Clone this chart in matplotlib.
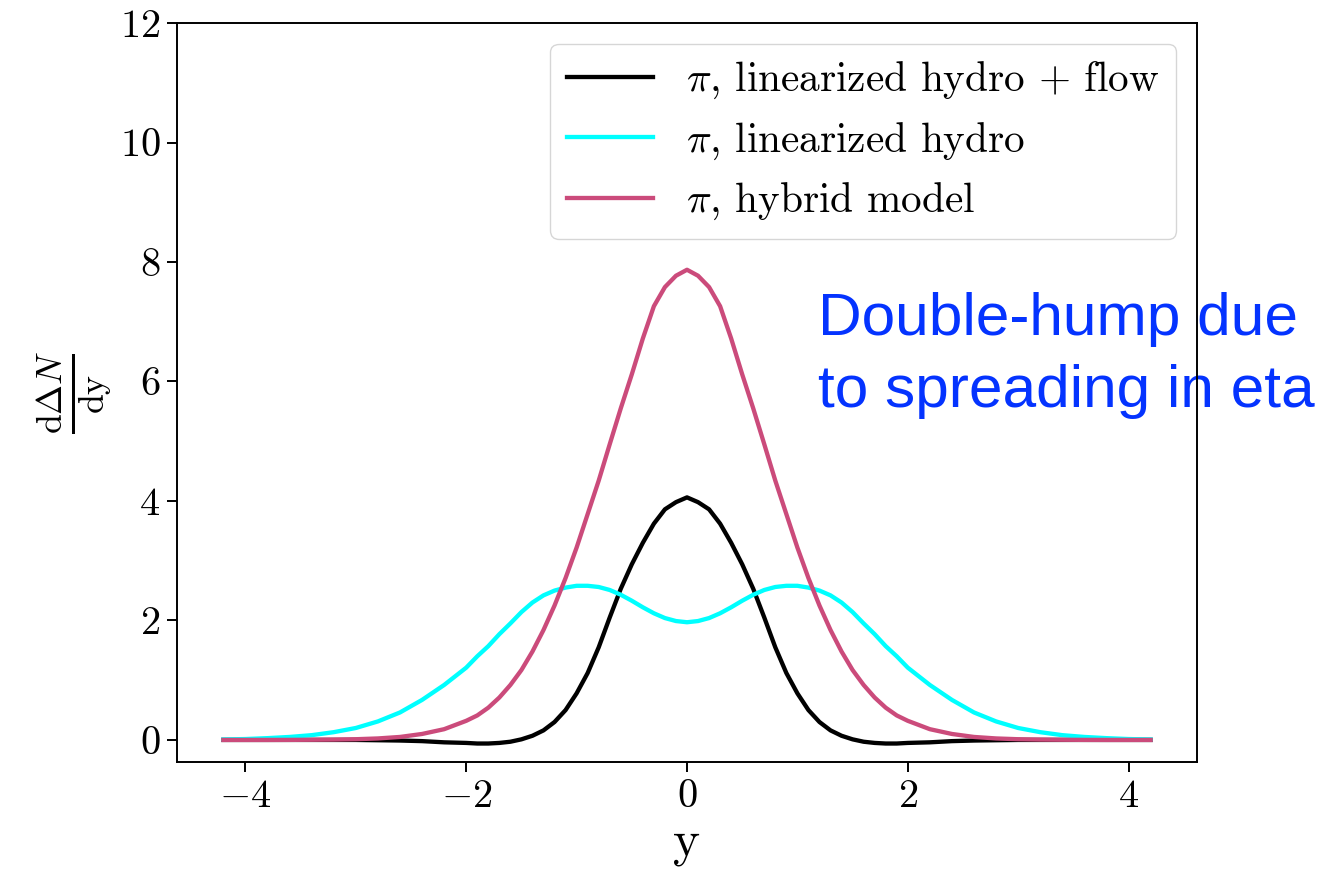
import matplotlib
matplotlib.use('Agg')
import matplotlib.pyplot as plt

# rapidity grid (coarse tails, fine core)
y = [-4.2, -4.0, -3.8, -3.6, -3.4, -3.2, -3.0, -2.8, -2.6, -2.4, -2.2,
     -2.0, -1.9, -1.8, -1.7, -1.6, -1.5, -1.4, -1.3, -1.2, -1.1,
     -1.0, -0.9, -0.8, -0.7, -0.6, -0.5, -0.4, -0.3, -0.2, -0.1,
     0.0,
     0.1, 0.2, 0.3, 0.4, 0.5, 0.6, 0.7, 0.8, 0.9, 1.0,
     1.1, 1.2, 1.3, 1.4, 1.5, 1.6, 1.7, 1.8, 1.9, 2.0,
     2.2, 2.4, 2.6, 2.8, 3.0, 3.2, 3.4, 3.6, 3.8, 4.0, 4.2]

# pi, linearized hydro + flow
lin_flow = [0.0, 0.0, 0.0, 0.0, 0.0, 0.0, 0.0, -0.005, -0.01, -0.02, -0.04,
            -0.05, -0.06, -0.06, -0.05, -0.03, 0.01, 0.07, 0.16, 0.30, 0.50,
            0.78, 1.12, 1.55, 2.05, 2.53, 2.94, 3.30, 3.62, 3.86, 3.98,
            4.06,
            3.98, 3.86, 3.62, 3.30, 2.94, 2.53, 2.05, 1.55, 1.12, 0.78,
            0.50, 0.30, 0.16, 0.07, 0.01, -0.03, -0.05, -0.06, -0.06, -0.05,
            -0.04, -0.02, -0.01, -0.005, 0.0, 0.0, 0.0, 0.0, 0.0, 0.0, 0.0]

# pi, linearized hydro
lin = [0.008, 0.015, 0.03, 0.05, 0.08, 0.13, 0.20, 0.31, 0.46, 0.67, 0.92,
       1.21, 1.40, 1.57, 1.77, 1.95, 2.14, 2.30, 2.42, 2.50, 2.55,
       2.58, 2.58, 2.56, 2.51, 2.43, 2.33, 2.22, 2.12, 2.04, 1.99,
       1.97,
       1.99, 2.04, 2.12, 2.22, 2.33, 2.43, 2.51, 2.56, 2.58, 2.58,
       2.55, 2.50, 2.42, 2.30, 2.14, 1.95, 1.77, 1.57, 1.40, 1.21,
       0.92, 0.67, 0.46, 0.31, 0.20, 0.13, 0.08, 0.05, 0.03, 0.015, 0.008]

# pi, hybrid model
hybrid = [0.0, 0.0, 0.0, 0.001, 0.003, 0.006, 0.012, 0.025, 0.05, 0.10, 0.18,
          0.32, 0.41, 0.54, 0.71, 0.92, 1.17, 1.48, 1.84, 2.25, 2.71,
          3.22, 3.78, 4.34, 4.95, 5.55, 6.12, 6.72, 7.26, 7.58, 7.77,
          7.87,
          7.77, 7.58, 7.26, 6.72, 6.12, 5.55, 4.95, 4.34, 3.78, 3.22,
          2.71, 2.25, 1.84, 1.48, 1.17, 0.92, 0.71, 0.54, 0.41, 0.32,
          0.18, 0.10, 0.05, 0.025, 0.012, 0.006, 0.003, 0.001, 0.0, 0.0, 0.0]

labels = [r'$\pi$, linearized hydro + flow', r'$\pi$, linearized hydro', r'$\pi$, hybrid model']
colors = ['black', '#00ffff', '#cb4b7b']

plt.rcParams['font.family'] = 'serif'
plt.rcParams['font.serif'] = ['cmr10']
plt.rcParams['mathtext.fontset'] = 'cm'
plt.rcParams['axes.formatter.use_mathtext'] = True

fig = plt.figure(figsize=(13.19, 8.72), dpi=100)
ax = fig.add_axes([0.1342, 0.1261, 0.9075 - 0.1342, 0.9736 - 0.1261])

for data, lab, col in zip([lin_flow, lin, hybrid], labels, colors):
    ax.plot(y, data, color=col, lw=3.1, label=lab)

ax.set_xlim(-4.62, 4.62)
ax.set_ylim(-0.37, 12)
ax.set_xticks([-4, -2, 0, 2, 4])
ax.set_yticks([0, 2, 4, 6, 8, 10, 12])
ax.tick_params(labelsize=29, length=7, width=1.4, pad=5)
for s in ax.spines.values():
    s.set_linewidth(1.4)

ax.set_xlabel('y', fontsize=37)
ax.set_ylabel(r'$\frac{\mathrm{d}\Delta N}{\mathrm{dy}}$', fontsize=37)

ax.legend(loc='upper right', fontsize=29.7, labelspacing=0.46, handlelength=2.1)

# annotation added on top of the figure
ax.text(0.620, 1 - 335 / 872, 'Double-hump due', transform=fig.transFigure,
        fontsize=43.5, family='Liberation Sans', color='#0433ff',
        va='baseline', ha='left', zorder=2, clip_on=False)
ax.text(0.620, 1 - 407 / 872, 'to spreading in eta', transform=fig.transFigure,
        fontsize=43.5, family='Liberation Sans', color='#0433ff',
        va='baseline', ha='left', zorder=2, clip_on=False)

fig.savefig('out.png', dpi=100)
